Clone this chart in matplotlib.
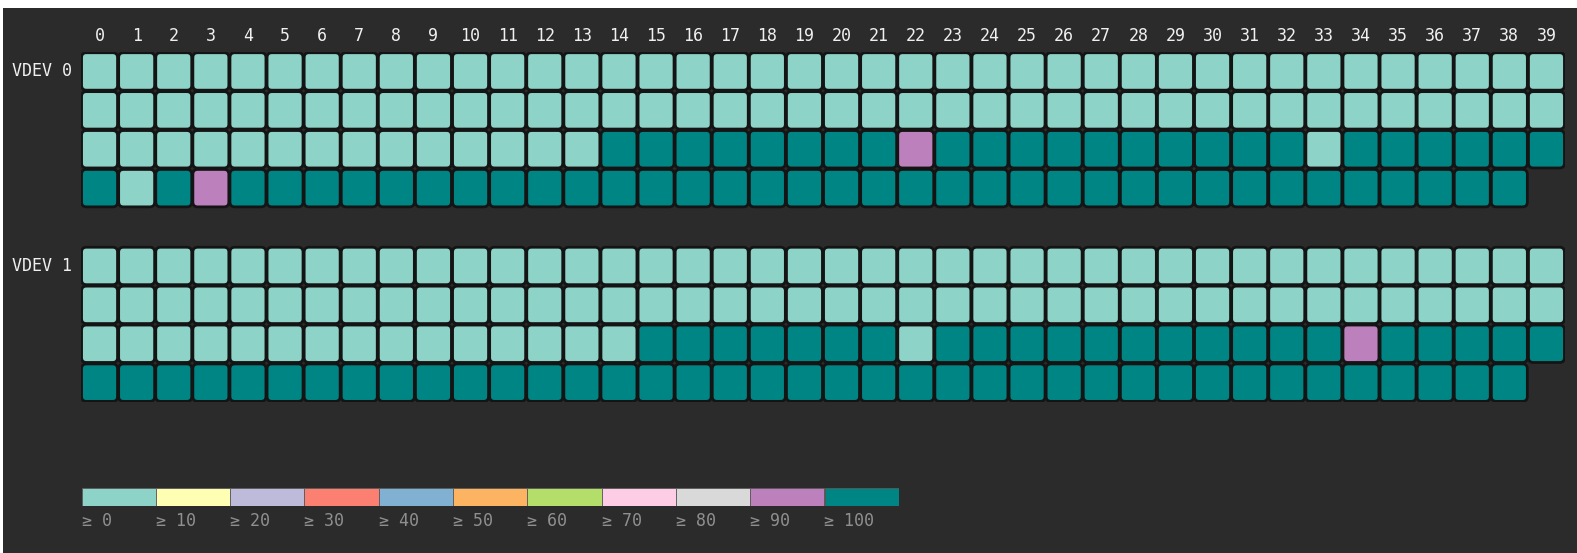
import matplotlib.pyplot as plt
from matplotlib.patches import FancyBboxPatch

# Bin thresholds and colours of the legend
thresholds = [0, 10, 20, 30, 40, 50, 60, 70, 80, 90, 100]
bin_colors = ["#8dd3c7", "#ffffb3", "#bebada", "#fb8072", "#80b1d3",
              "#fdb462", "#b3de69", "#fccde5", "#d9d9d9", "#bc80bd", "#008585"]

vdev_names = ["VDEV 0", "VDEV 1"]
n_cols = 40

# values per cell, one list per row (row 4 has 39 cells)
vdev0 = [
    [0] * 40,
    [0] * 40,
    [0] * 14 + [100] * 8 + [95] + [100] * 10 + [0] + [100] * 6,
    [100, 0, 100, 95] + [100] * 35,
]
vdev1 = [
    [0] * 40,
    [0] * 40,
    [0] * 15 + [100] * 7 + [0] + [100] * 11 + [95] + [100] * 5,
    [100] * 39,
]
vdevs = [vdev0, vdev1]

BG = "#2b2b2b"
W, H = 1577, 553


def bin_color(v):
    idx = 0
    for i, t in enumerate(thresholds):
        if v >= t:
            idx = i
    return bin_colors[idx]


fig = plt.figure(figsize=(W / 100, H / 100), dpi=100, facecolor="white")
bg = fig.add_axes([3 / W, 0, 1 - 3 / W, 1 - 8 / H])
bg.set_facecolor(BG)
bg.set_xticks([])
bg.set_yticks([])
for s in bg.spines.values():
    s.set_visible(False)

mono = ["DejaVu Sans Mono"]

# grid axes: one data unit per cell
px_left, px_top = 81, 52
pitch_x, pitch_y = 37.1, 38.9
rows_total = 9
ax = fig.add_axes([px_left / W, 1 - (px_top + rows_total * pitch_y) / H,
                   n_cols * pitch_x / W, rows_total * pitch_y / H])
ax.set_xlim(0, n_cols)
ax.set_ylim(rows_total, 0)
ax.axis("off")

g = 0.015
pad = 0.08
for v, rows in enumerate(vdevs):
    for r, vals in enumerate(rows):
        y = v * 5 + r
        for c, val in enumerate(vals):
            ax.add_patch(FancyBboxPatch(
                (c + g + pad, y + g + pad), 1 - 2 * (g + pad), 1 - 2 * (g + pad),
                boxstyle=f"round,pad={pad},rounding_size=0.13",
                mutation_aspect=pitch_x / pitch_y,
                facecolor=bin_color(val), edgecolor="#141414", linewidth=2.0))
    ax.text(-0.24, v * 5 + 0.5, vdev_names[v], ha="right", va="center",
            color="#f0f0f0", fontsize=12, family=mono)

for c in range(n_cols):
    ax.text(c + 0.5, -0.4, str(c), ha="center", va="center",
            color="#f0f0f0", fontsize=12, family=mono)

# legend
sw = 74.3
lax = fig.add_axes([81.5 / W, 1 - 506 / H, len(thresholds) * sw / W, 18.5 / H])
lax.bar(range(len(thresholds)), [1] * len(thresholds), width=1, align="edge",
        color=bin_colors, edgecolor="#5a5a5a", linewidth=0.6)
lax.set_xlim(0, len(thresholds))
lax.set_ylim(0, 1)
lax.axis("off")
for i, t in enumerate(thresholds):
    lax.text(i, -0.8, f"\u2265 {t}", ha="left", va="center",
             color="#8f8f8f", fontsize=12, family=mono)

fig.savefig("out.png", dpi=100, facecolor="white")
